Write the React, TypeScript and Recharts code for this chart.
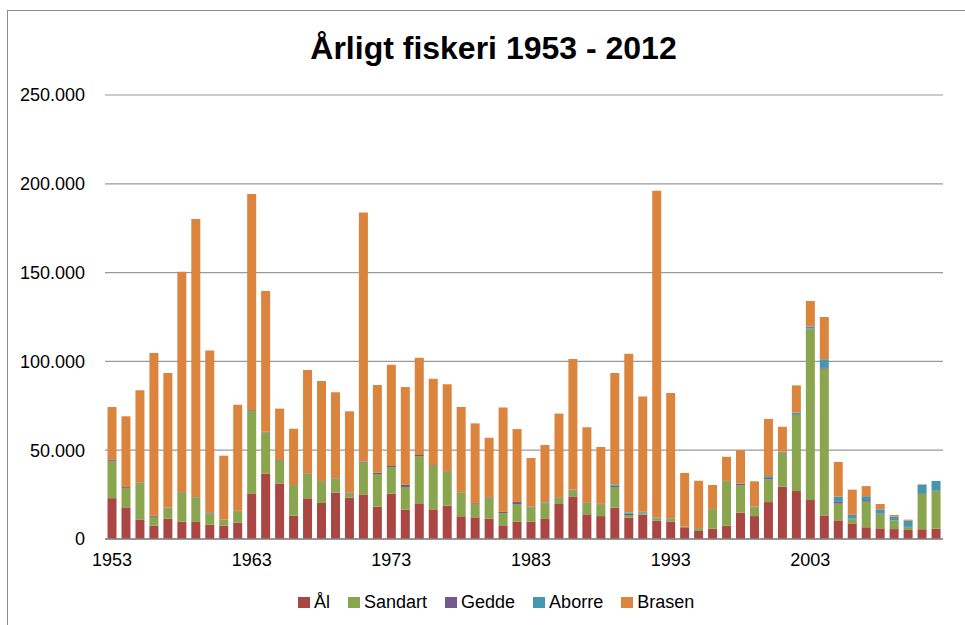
import React from 'react';
import { BarChart, Bar, XAxis, YAxis, CartesianGrid, Legend } from 'recharts';

const years: string[] = [
  '1953','1954','1955','1956','1957','1958','1959','1960','1961','1962',
  '1963','1964','1965','1966','1967','1968','1969','1970','1971','1972',
  '1973','1974','1975','1976','1977','1978','1979','1980','1981','1982',
  '1983','1984','1985','1986','1987','1988','1989','1990','1991','1992',
  '1993','1994','1995','1996','1997','1998','1999','2000','2001','2002',
  '2003','2004','2005','2006','2007','2008','2009','2010','2011','2012',
];

const al: number[] = [
  23000,17800,11000,7500,11400,9800,9600,8000,7500,9200,
  25700,36800,31300,13100,22900,20300,26100,23300,25100,18200,
  25500,16500,20100,16700,18800,12800,12200,11400,7700,9800,
  9800,11300,19700,24000,13900,12900,17600,12000,13700,10300,
  9800,6600,4500,5800,7500,14800,12900,20800,29500,27000,
  22000,13300,10500,8800,6600,6000,5600,5100,5500,5800,
];

const sandart: number[] = [
  21000,11000,20500,5000,6000,16500,13800,6500,3300,6500,
  46500,23200,12800,17000,13800,12200,7800,2300,17900,18400,
  15000,12800,26600,24600,19300,13100,7700,11900,6900,9900,
  8000,8800,3500,3400,6500,6400,11700,1500,800,1200,
  1700,300,1500,10900,25000,15500,5000,12800,19100,43000,
  96100,82600,9400,2300,14400,8100,4700,1500,20000,21100,
];

const gedde: number[] = [
  800,500,300,600,300,200,200,500,100,200,
  400,400,400,300,300,200,300,500,600,700,
  600,1300,600,400,200,200,400,300,800,1100,
  500,300,300,300,300,300,800,700,300,200,
  200,0,200,200,200,700,200,800,300,400,
  400,800,1300,400,900,300,200,200,400,500,
];

const aborre: number[] = [
  0,0,0,0,0,0,0,0,0,0,
  0,0,0,0,0,0,0,0,0,0,
  0,0,0,0,0,0,0,0,0,0,
  0,300,0,0,0,200,700,800,700,300,
  0,0,0,0,0,200,200,1000,300,800,
  1200,4500,2600,2100,2200,2300,2100,3500,4700,5300,
];

const brasen: number[] = [
  29500,39800,52000,91600,75800,124000,156600,91200,36000,59700,
  121600,79200,28900,31700,58100,56300,48400,45800,140300,49400,
  57000,55000,54800,48600,48800,48200,44800,33400,58700,41100,
  27300,32200,47100,73600,42200,32000,62700,89300,64800,184100,
  70500,30300,26600,13500,13600,18800,14200,32200,14000,15300,
  14300,23800,19600,14200,5700,3000,900,600,200,0,
];

const yTicks: number[] = [0, 50000, 100000, 150000, 200000, 250000];

const seriesNames = ['Ål', 'Sandart', 'Gedde', 'Aborre', 'Brasen'];
const seriesColors = ['#AA4643', '#89A54E', '#71588F', '#4198AF', '#DB843D'];

const data = years.map((y, i) => ({
  year: y,
  'Ål': al[i],
  Sandart: sandart[i],
  Gedde: gedde[i],
  Aborre: aborre[i],
  Brasen: brasen[i],
}));

const FONT = '"Liberation Sans", Arial, sans-serif';

const fmt = (v: number) => (v === 0 ? '0' : `${Math.round(v / 1000)}.000`);

const LegendContent = () => (
  <div style={{ display: 'flex', alignItems: 'center', fontFamily: FONT, fontSize: 18, color: '#000', height: 20, lineHeight: '20px' }}>
    {seriesNames.map((n, i) => (
      <div key={n} style={{ display: 'flex', alignItems: 'center', marginRight: 18 }}>
        <span style={{ display: 'inline-block', width: 12, height: 11, background: seriesColors[i], marginRight: 4 }} />
        <span>{n}</span>
      </div>
    ))}
  </div>
);

export default function App() {
  return (
    <div style={{ position: 'absolute', left: 0, top: 0, width: 965, height: 625, overflow: 'hidden', background: '#fff' }}>
      <div style={{ position: 'absolute', left: 7, top: 10, width: 1000, height: 700, border: '1px solid #8E8E8E', boxSizing: 'border-box' }} />
      <div style={{ position: 'absolute', left: 0, top: 32, width: 987, textAlign: 'center', fontFamily: FONT, fontWeight: 'bold', fontSize: 32, lineHeight: '32px', color: '#000' }}>
        Årligt fiskeri 1953 - 2012
      </div>
      <div style={{ position: 'absolute', left: 0, top: 0 }}>
        <BarChart
          width={965}
          height={625}
          data={data}
          margin={{ top: 95, right: 22, left: 0, bottom: 56 }}
          barCategoryGap="18%"
        >
          <CartesianGrid vertical={false} stroke="#9A9A9A" strokeWidth={1.2} />
          <XAxis
            dataKey="year"
            interval={9}
            height={30}
            tickLine={false}
            tickSize={6}
            tickMargin={8}
            axisLine={{ stroke: '#868686', strokeWidth: 1.5 }}
            tick={{ fill: '#000', fontSize: 18, fontFamily: FONT }}
          />
          <YAxis
            width={105}
            domain={[0, 250000]}
            ticks={yTicks}
            tickFormatter={fmt}
            axisLine={false}
            tickLine={false}
            tickSize={6}
            tickMargin={14}
            tick={{ fill: '#000', fontSize: 18, fontFamily: FONT }}
          />
          <Legend
            verticalAlign="middle"
            align="center"
            content={<LegendContent />}
            wrapperStyle={{ position: 'absolute', left: 298, top: 592, width: 'auto', height: 20 }}
          />
          {seriesNames.map((n, i) => (
            <Bar key={n} dataKey={n} stackId="a" fill={seriesColors[i]} isAnimationActive={false} />
          ))}
        </BarChart>
      </div>
    </div>
  );
}
